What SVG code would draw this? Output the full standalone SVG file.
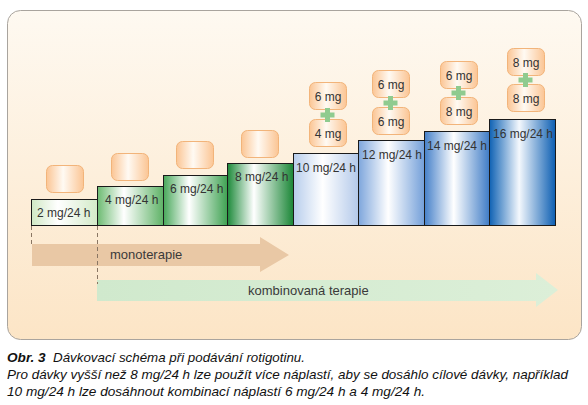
<svg xmlns="http://www.w3.org/2000/svg" width="588" height="405" viewBox="0 0 588 405">
<defs>
<linearGradient id="panel" x1="0" y1="0" x2="0" y2="1"><stop offset="0" stop-color="#fef9f1"/><stop offset="1" stop-color="#fce5c6"/></linearGradient>
<linearGradient id="patch" x1="0" y1="0" x2="1" y2="0"><stop offset="0" stop-color="#fbc594"/><stop offset="0.45" stop-color="#fffaf3"/><stop offset="1" stop-color="#fbc594"/></linearGradient>
<linearGradient id="g1" x1="0" y1="0" x2="1" y2="0"><stop offset="0" stop-color="#d0e8c4"/><stop offset="0.4" stop-color="#ffffff"/><stop offset="1" stop-color="#d3eac8"/></linearGradient>
<linearGradient id="g2" x1="0" y1="0" x2="1" y2="0"><stop offset="0" stop-color="#6dbb72"/><stop offset="0.4" stop-color="#ffffff"/><stop offset="1" stop-color="#5eb266"/></linearGradient>
<linearGradient id="g3" x1="0" y1="0" x2="1" y2="0"><stop offset="0" stop-color="#48a85a"/><stop offset="0.4" stop-color="#ffffff"/><stop offset="1" stop-color="#3fa252"/></linearGradient>
<linearGradient id="g4" x1="0" y1="0" x2="1" y2="0"><stop offset="0" stop-color="#1d8a3a"/><stop offset="0.4" stop-color="#ffffff"/><stop offset="1" stop-color="#1a8636"/></linearGradient>
<linearGradient id="b1" x1="0" y1="0" x2="1" y2="0"><stop offset="0" stop-color="#b7cdec"/><stop offset="0.45" stop-color="#ffffff"/><stop offset="1" stop-color="#b3c9ea"/></linearGradient>
<linearGradient id="b2" x1="0" y1="0" x2="1" y2="0"><stop offset="0" stop-color="#7ea6dc"/><stop offset="0.45" stop-color="#ffffff"/><stop offset="1" stop-color="#739fd9"/></linearGradient>
<linearGradient id="b3" x1="0" y1="0" x2="1" y2="0"><stop offset="0" stop-color="#4580c9"/><stop offset="0.45" stop-color="#ffffff"/><stop offset="1" stop-color="#3f7cc6"/></linearGradient>
<linearGradient id="b4" x1="0" y1="0" x2="1" y2="0"><stop offset="0" stop-color="#0f62b4"/><stop offset="0.45" stop-color="#f4f8fd"/><stop offset="1" stop-color="#0c5eb2"/></linearGradient>
<linearGradient id="komb" x1="0" y1="0" x2="1" y2="0"><stop offset="0" stop-color="#d0e9cd"/><stop offset="1" stop-color="#dcefd8"/></linearGradient>
<symbol id="plus" overflow="visible"><path d="M-2.5,-7 h5 v4.5 h4.5 v5 h-4.5 v4.5 h-5 v-4.5 h-4.5 v-5 h4.5 z" fill="#8fcb8f"/></symbol>
</defs>
<style>
.bar{stroke:#1a1a1a;stroke-width:1}
.lbl{font-family:"Liberation Sans",Arial,sans-serif;font-size:12px;fill:#333}
.pt{fill:url(#patch);stroke:#f2b47a;stroke-width:1}
.pl{font-family:"Liberation Sans",Arial,sans-serif;font-size:12px;fill:#333;text-anchor:middle}
.dash{stroke:#8a7663;stroke-width:1;stroke-dasharray:4,3;fill:none}
.arr{font-family:"Liberation Sans",Arial,sans-serif;font-size:13px;fill:#3a3a3a}
.cap{font-family:"Liberation Sans",Arial,sans-serif;font-size:13.6px;font-style:italic;fill:#111}
</style>
<rect x="7.5" y="10.5" width="574" height="329" rx="13" fill="url(#panel)" stroke="#a9a49e" stroke-width="1"/>

<g id="connectors">
<polygon points="32,244 260,244 260,237 289,255 260,272 260,266 32,266" fill="#e9c8a5"/>
<polygon points="97,280 536,280 536,273 558,290 536,307 536,301 97,301" fill="url(#komb)"/>
<line class="dash" x1="31.5" y1="226" x2="31.5" y2="247"/>
<line class="dash" x1="97.5" y1="226" x2="97.5" y2="284"/>
<text class="arr" x="110" y="259">monoterapie</text>
<text class="arr" x="248" y="295">kombinovaná terapie</text>
</g>

<g id="bar-2mg"><rect class="bar" x="31.5" y="199.5" width="66" height="26" fill="url(#g1)"/><text class="lbl" x="37" y="217">2 mg/24 h</text>
<rect class="pt" x="46.5" y="165.5" width="37" height="27" rx="6"/></g>
<g id="bar-4mg"><rect class="bar" x="97.5" y="186.5" width="66" height="39" fill="url(#g2)"/><text class="lbl" x="105" y="204">4 mg/24 h</text>
<rect class="pt" x="111.5" y="153.5" width="37" height="27" rx="6"/></g>
<g id="bar-6mg"><rect class="bar" x="163.5" y="175.5" width="64" height="50" fill="url(#g3)"/><text class="lbl" x="170" y="193">6 mg/24 h</text>
<rect class="pt" x="176.5" y="141.5" width="37" height="27" rx="6"/></g>
<g id="bar-8mg"><rect class="bar" x="227.5" y="163.5" width="66" height="62" fill="url(#g4)"/><text class="lbl" x="235" y="181">8 mg/24 h</text>
<rect class="pt" x="241.5" y="130.5" width="37" height="27" rx="6"/></g>

<g id="bar-10mg"><rect class="bar" x="293.5" y="153.5" width="65" height="72" fill="url(#b1)"/><text class="lbl" x="296" y="172">10 mg/24 h</text>
<rect class="pt" x="309.5" y="82.5" width="37" height="27" rx="6"/><text class="pl" x="328" y="101">6 mg</text>
<rect class="pt" x="309.5" y="119.5" width="37" height="27" rx="6"/><text class="pl" x="328" y="138">4 mg</text>
<use href="#plus" x="327.5" y="115"/></g>
<g id="bar-12mg"><rect class="bar" x="358.5" y="140.5" width="66" height="85" fill="url(#b2)"/><text class="lbl" x="362" y="159">12 mg/24 h</text>
<rect class="pt" x="372.5" y="70.5" width="37" height="27" rx="6"/><text class="pl" x="391" y="89">6 mg</text>
<rect class="pt" x="372.5" y="107.5" width="37" height="27" rx="6"/><text class="pl" x="391" y="126">6 mg</text>
<use href="#plus" x="390.5" y="103"/></g>
<g id="bar-14mg"><rect class="bar" x="424.5" y="131.5" width="65" height="94" fill="url(#b3)"/><text class="lbl" x="427" y="150">14 mg/24 h</text>
<rect class="pt" x="440.5" y="61.5" width="37" height="27" rx="6"/><text class="pl" x="459" y="80">6 mg</text>
<rect class="pt" x="440.5" y="97.5" width="37" height="27" rx="6"/><text class="pl" x="459" y="116">8 mg</text>
<use href="#plus" x="458.5" y="93"/></g>
<g id="bar-16mg"><rect class="bar" x="489.5" y="119.5" width="66" height="106" fill="url(#b4)"/><text class="lbl" x="493" y="138">16 mg/24 h</text>
<rect class="pt" x="507.5" y="48.5" width="37" height="27" rx="6"/><text class="pl" x="526" y="67">8 mg</text>
<rect class="pt" x="507.5" y="84.5" width="37" height="27" rx="6"/><text class="pl" x="526" y="103">8 mg</text>
<use href="#plus" x="525.5" y="80"/></g>

<g id="caption">
<text class="cap" x="7" y="362"><tspan font-weight="bold">Obr. 3</tspan><tspan x="53" textLength="252" lengthAdjust="spacingAndGlyphs">Dávkovací schéma při podávání rotigotinu.</tspan></text>
<text class="cap" x="7" y="379" textLength="561" lengthAdjust="spacingAndGlyphs">Pro dávky vyšší než 8 mg/24 h lze použít více náplastí, aby se dosáhlo cílové dávky, například</text>
<text class="cap" x="7" y="396" textLength="418" lengthAdjust="spacingAndGlyphs">10 mg/24 h lze dosáhnout kombinací náplastí 6 mg/24 h a 4 mg/24 h.</text>
</g>
</svg>
